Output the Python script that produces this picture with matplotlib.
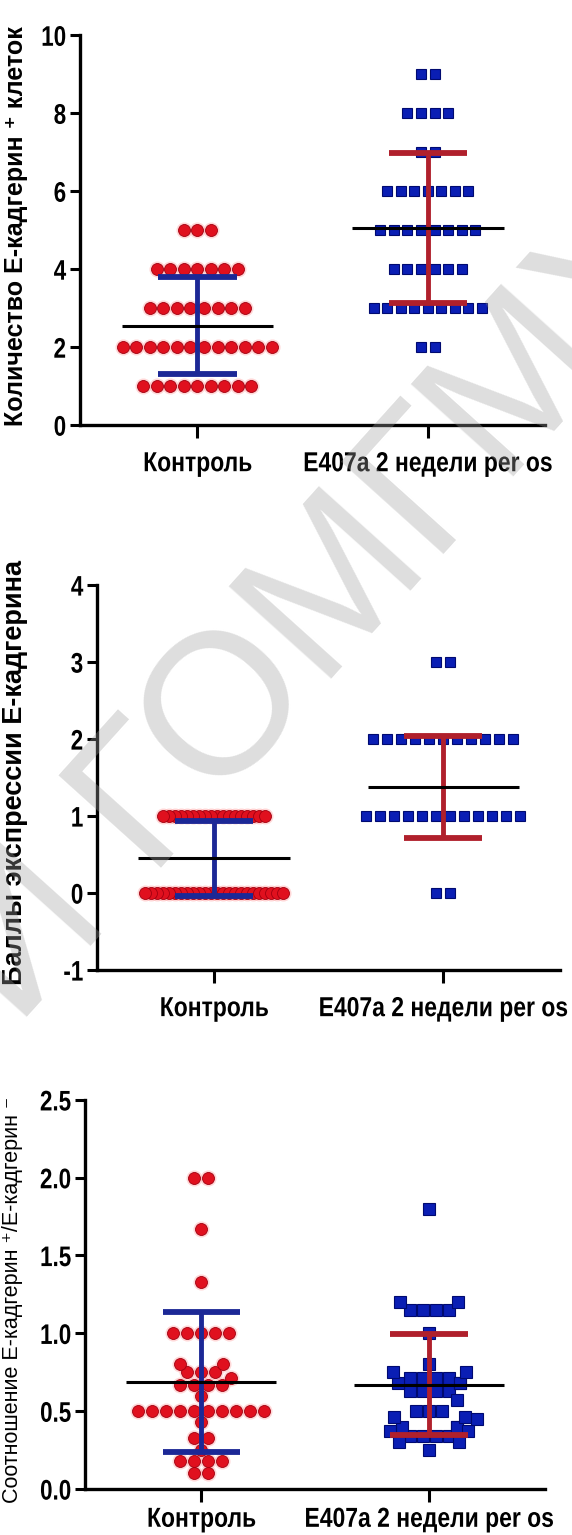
import numpy as np
import matplotlib.pyplot as plt
from matplotlib.patheffects import AbstractPathEffect
from matplotlib.transforms import Affine2D

plt.rcParams['font.family'] = ['Liberation Sans', 'DejaVu Sans']

categories = ['Контроль', 'E407a 2 недели per os']

# panel 1 - количество E-кадгерин+ клеток (levels and counts per level)
p1_ctrl_levels = [1, 2, 3, 4, 5]
p1_ctrl_counts = [9, 12, 8, 7, 3]
p1_trt_levels = [2, 3, 4, 5, 6, 7, 8, 9]
p1_trt_counts = [2, 9, 6, 8, 7, 2, 4, 2]
p1_mean = [2.55, 5.05]
p1_sd = [1.25, 1.93]

# panel 2 - баллы экспрессии
p2_ctrl_levels = [0, 1]
p2_ctrl_counts = [24, 18]
p2_trt_levels = [0, 1, 2, 3]
p2_trt_counts = [2, 12, 11, 2]
p2_mean = [0.45, 1.38]
p2_sd = [0.49, 0.66]

# panel 3 - соотношение
p3_ctrl = [2.0, 2.0, 1.67, 1.33, 1.0, 1.0, 1.0, 1.0, 1.0, 0.8, 0.8,
           0.75, 0.75, 0.75, 0.71, 0.67, 0.67, 0.67, 0.67, 0.6,
           0.5, 0.5, 0.5, 0.5, 0.5, 0.5, 0.5, 0.5, 0.5, 0.5,
           0.43, 0.33, 0.33, 0.25, 0.18, 0.18, 0.18, 0.18, 0.1, 0.1]
p3_trt = [1.8, 1.2, 1.2, 1.15, 1.15, 1.15, 1.15, 1.0, 0.8, 0.75, 0.75,
          0.71, 0.71, 0.71, 0.71, 0.68, 0.68, 0.68, 0.63, 0.63, 0.63, 0.63,
          0.57, 0.5, 0.5, 0.5, 0.46, 0.46, 0.45, 0.4, 0.4, 0.4, 0.37, 0.37,
          0.34, 0.34, 0.34, 0.34, 0.3, 0.3, 0.25]
p3_mean = [0.69, 0.67]
p3_sd = [0.45, 0.325]

RED = '#e0101e'
RED_EDGE = '#a00010'
BLUE = '#0a1eb4'
BLUE_EDGE = '#000a70'
BAR_BLUE = '#1c2896'
BAR_RED = '#b0202c'


class Stretch(AbstractPathEffect):
    # taller glyphs for the condensed Prism look
    def __init__(self, sx=1.0, sy=1.2, ax=0.5, ay=0.5):
        super().__init__()
        self.sx, self.sy, self.ax, self.ay = sx, sy, ax, ay

    def draw_path(self, renderer, gc, tpath, affine, rgbFace=None):
        ext = tpath.get_extents()
        px = ext.x0 + ext.width * self.ax
        py = ext.y0 + ext.height * self.ay
        t = (Affine2D().translate(-px, -py).scale(self.sx, self.sy)
             .translate(px, py) + affine)
        renderer.draw_path(gc, tpath, t, rgbFace)


def swarm(values, ax, d, c):
    # symmetric rows like Prism, pushed apart where neighbours collide
    bbox = ax.get_window_extent()
    x0, x1 = ax.get_xlim()
    y0, y1 = ax.get_ylim()
    sx = bbox.width / (x1 - x0)
    sy = bbox.height / (y1 - y0)
    vals = np.asarray(values, float)
    uniq, counts = np.unique(vals, return_counts=True)
    order = sorted(range(len(uniq)), key=lambda i: (-counts[i], uniq[i]))
    grid = np.arange(0, 300, 0.5)
    placed = []
    out_x, out_y = [], []

    def free(x, y):
        for px, py in placed:
            if (px - x) ** 2 + (py - y) ** 2 < c * c - 1e-6:
                return False
        return True

    for i in order:
        yv = uniq[i]
        y = yv * sy
        n = counts[i]
        row = []
        if n % 2 == 1:
            for g in grid:
                cand = [g] if g == 0 else [g, -g]
                hit = [h for h in cand if free(h, y)]
                if hit:
                    row.append(hit[0])
                    break
            n -= 1
        while n > 0:
            if not row:
                lo = d / 2
            else:
                lo = max(abs(r) for r in row) + d if (len(row) > 1 or row[0] == 0) else d
            for g in grid:
                if g < lo:
                    continue
                if free(g, y) and free(-g, y):
                    row += [g, -g]
                    break
            n -= 2
        for r in row:
            placed.append((r, y))
            out_x.append(r / sx)
            out_y.append(yv)
    return np.array(out_x), np.array(out_y)


def style_axis(ax, ylim, yticks, fmt, xpad=9):
    ax.set_xlim(0.49, 2.51)
    ax.set_ylim(*ylim)
    for s in ['top', 'right']:
        ax.spines[s].set_visible(False)
    for s in ['left', 'bottom']:
        ax.spines[s].set_linewidth(2.4)
    ax.set_yticks(yticks)
    ylabs = ax.set_yticklabels([fmt.format(t) for t in yticks], fontsize=17, fontweight='bold')
    ax.set_xticks([1, 2])
    xlabs = ax.set_xticklabels(categories, fontsize=16.5, fontweight='bold')
    for t in ylabs:
        t.set_path_effects([Stretch(0.95, 1.2, 1.0, 0.5)])
    for t in xlabs:
        t.set_path_effects([Stretch(1.0, 1.2, 0.5, 1.0)])
    ax.tick_params(axis='both', direction='out', width=2.2, length=7)
    ax.tick_params(axis='x', length=9, pad=xpad)
    ax.tick_params(axis='y', pad=3)


def draw_group(ax, x, values, shape, d, c, ms, mean, sd, bar_color):
    ox, oy = swarm(values, ax, d, c)
    if shape == 'o':
        ax.plot(x + ox, oy, 'o', ms=ms + 3, color='#ff9090', alpha=0.35, mew=0, zorder=2)
        ax.plot(x + ox, oy, 'o', ms=ms, color=RED, mec=RED_EDGE, mew=0.6, zorder=3)
    else:
        ax.plot(x + ox, oy, 's', ms=ms, color=BLUE, mec=BLUE_EDGE, mew=0.8, zorder=3)
    ax.hlines(mean, x - 0.33, x + 0.33, color='black', lw=2.2, zorder=5)
    ax.vlines(x, mean - sd, mean + sd, color=bar_color, lw=3.5, zorder=4)
    ax.hlines([mean - sd, mean + sd], x - 0.17, x + 0.17, color=bar_color, lw=4.2, zorder=4)


fig = plt.figure(figsize=(5.72, 15.35), dpi=100)

ax1 = fig.add_axes([0.140, 0.7231, 0.813, 0.254])
style_axis(ax1, (0, 10), [0, 2, 4, 6, 8, 10], '{:g}')
draw_group(ax1, 1, np.repeat(p1_ctrl_levels, p1_ctrl_counts), 'o', 13.5, 13.5, 8.6,
           p1_mean[0], p1_sd[0], BAR_BLUE)
draw_group(ax1, 2, np.repeat(p1_trt_levels, p1_trt_counts), 's', 13.5, 13.5, 7.8,
           p1_mean[1], p1_sd[1], BAR_RED)

ax2 = fig.add_axes([0.170, 0.3681, 0.809, 0.2508])
style_axis(ax2, (-1, 4), [-1, 0, 1, 2, 3, 4], '{:g}')
draw_group(ax2, 1, np.repeat(p2_ctrl_levels, p2_ctrl_counts), 'o', 6.0, 6.0, 8.6,
           p2_mean[0], p2_sd[0], BAR_BLUE)
draw_group(ax2, 2, np.repeat(p2_trt_levels, p2_trt_counts), 's', 13.8, 13.8, 7.8,
           p2_mean[1], p2_sd[1], BAR_RED)

ax3 = fig.add_axes([0.149, 0.0300, 0.804, 0.2535])
style_axis(ax3, (0, 2.5), [0, 0.5, 1.0, 1.5, 2.0, 2.5], '{:.1f}', xpad=3)
draw_group(ax3, 1, p3_ctrl, 'o', 13.8, 10.5, 8.6, p3_mean[0], p3_sd[0], BAR_BLUE)
draw_group(ax3, 2, p3_trt, 's', 13.0, 12.0, 8.0, p3_mean[1], p3_sd[1], BAR_RED)

lab_font = ['Liberation Sans', 'DejaVu Sans']
fig.text(0.028, 0.853, 'Количество E-кадгерин ⁺ клеток', rotation=90, ha='center',
         va='center', fontsize=18, fontweight='bold', family=lab_font)
fig.text(0.027, 0.497, 'Баллы экспрессии E-кадгерина', rotation=90, ha='center',
         va='center', fontsize=19.5, fontweight='bold', family=lab_font)
fig.text(0.022, 0.153, 'Соотношение E-кадгерин ⁺/E-кадгерин ⁻', rotation=90, ha='center',
         va='center', fontsize=15.5, family=lab_font)

# repository watermark
fig.text(0.56, 0.60, 'И ГОМГМУ', rotation=48, ha='center', va='center', fontsize=145,
         color='#a0a0a0', alpha=0.35, family=lab_font, zorder=10)

fig.savefig('out.png', dpi=100)
